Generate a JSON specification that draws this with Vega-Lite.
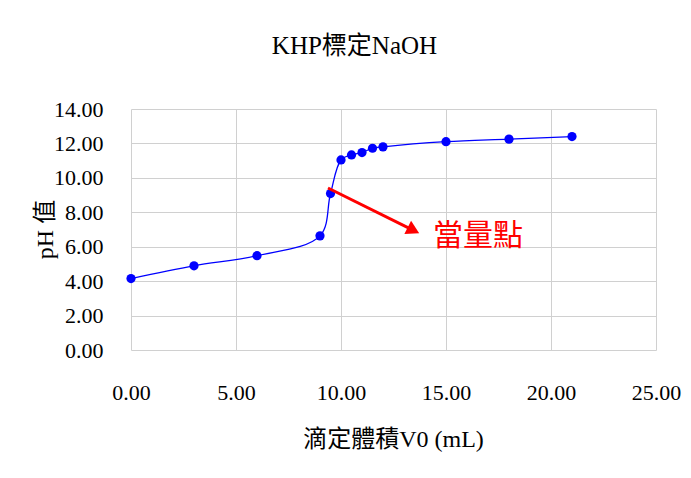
{
  "$schema": "https://vega.github.io/schema/vega-lite/v6.json",
  "width": 525,
  "height": 241,
  "autosize": {"type": "none"},
  "padding": {"left": 131, "top": 109, "right": 35, "bottom": 128},
  "background": "white",
  "title": {
    "text": "KHP標定NaOH",
    "font": "Liberation Serif, Noto Sans CJK TC",
    "fontSize": 25,
    "fontWeight": "normal",
    "color": "#000000",
    "anchor": "middle",
    "frame": "group",
    "offset": 39,
    "dx": -39
  },
  "config": {
    "view": {"stroke": null},
    "axis": {
      "labelFont": "Liberation Serif",
      "labelFontSize": 22,
      "labelColor": "#000000",
      "labelFlush": false,
      "labelOverlap": false,
      "titleFont": "Liberation Serif, Noto Sans CJK TC",
      "titleFontSize": 24,
      "titleFontWeight": "normal",
      "titleColor": "#000000",
      "gridColor": "#d0d0d0",
      "gridWidth": 1,
      "domain": false,
      "ticks": false
    }
  },
  "datasets": {
    "titration": [
      {"v": 0, "ph": 4.15},
      {"v": 3, "ph": 4.89},
      {"v": 6, "ph": 5.48},
      {"v": 9, "ph": 6.63},
      {"v": 9.5, "ph": 9.09},
      {"v": 10, "ph": 11.04},
      {"v": 10.5, "ph": 11.33},
      {"v": 11, "ph": 11.47},
      {"v": 11.5, "ph": 11.72},
      {"v": 12, "ph": 11.8},
      {"v": 15, "ph": 12.1},
      {"v": 18, "ph": 12.25},
      {"v": 21, "ph": 12.4}
    ],
    "arrow": [
      {"v": 9.38, "ph": 9.41, "v2": 13.45, "ph2": 6.95}
    ],
    "head": [
      {"v": 13.45, "ph": 6.95}
    ],
    "label": [
      {"v": 16.52, "ph": 6.62, "text": "當量點"}
    ]
  },
  "encoding": {
    "x": {
      "field": "v", "type": "quantitative",
      "scale": {"domain": [0, 25], "nice": false},
      "axis": {
        "values": [0, 5, 10, 15, 20, 25],
        "format": ".2f",
        "labelPadding": 32,
        "labelOverlap": false,
        "labelFlush": false,
        "title": "滴定體積V0 (mL)",
        "titleX": 262,
        "titleY": 89,
        "titleBaseline": "middle",
        "titleAlign": "center"
      }
    },
    "y": {
      "field": "ph", "type": "quantitative",
      "scale": {"domain": [0, 14], "nice": false},
      "axis": {
        "values": [0, 2, 4, 6, 8, 10, 12, 14],
        "format": ".2f",
        "labelPadding": 28,
        "labelOverlap": false,
        "labelFlush": false,
        "labelBound": false,
        "title": "pH 值",
        "titleX": -86,
        "titleY": 120,
        "titleAngle": 270,
        "titleBaseline": "middle",
        "titleAlign": "center"
      }
    }
  },
  "layer": [
    {
      "data": {"name": "titration"},
      "mark": {"type": "line", "interpolate": "catmull-rom", "color": "#0000ff", "strokeWidth": 1.3}
    },
    {
      "data": {"name": "titration"},
      "mark": {"type": "circle", "color": "#0000ff", "opacity": 1, "size": 85}
    },
    {
      "data": {"name": "arrow"},
      "mark": {"type": "rule", "color": "#ff0000", "strokeWidth": 3},
      "encoding": {
        "x2": {"field": "v2"},
        "y2": {"field": "ph2"}
      }
    },
    {
      "data": {"name": "head"},
      "mark": {"type": "point", "shape": "triangle-up", "filled": true, "color": "#ff0000", "opacity": 1, "size": 220, "angle": 117}
    },
    {
      "data": {"name": "label"},
      "mark": {"type": "text", "color": "#ff0000", "fontSize": 30, "font": "Noto Sans CJK TC", "align": "center", "baseline": "middle"},
      "encoding": {
        "text": {"field": "text"}
      }
    }
  ]
}
